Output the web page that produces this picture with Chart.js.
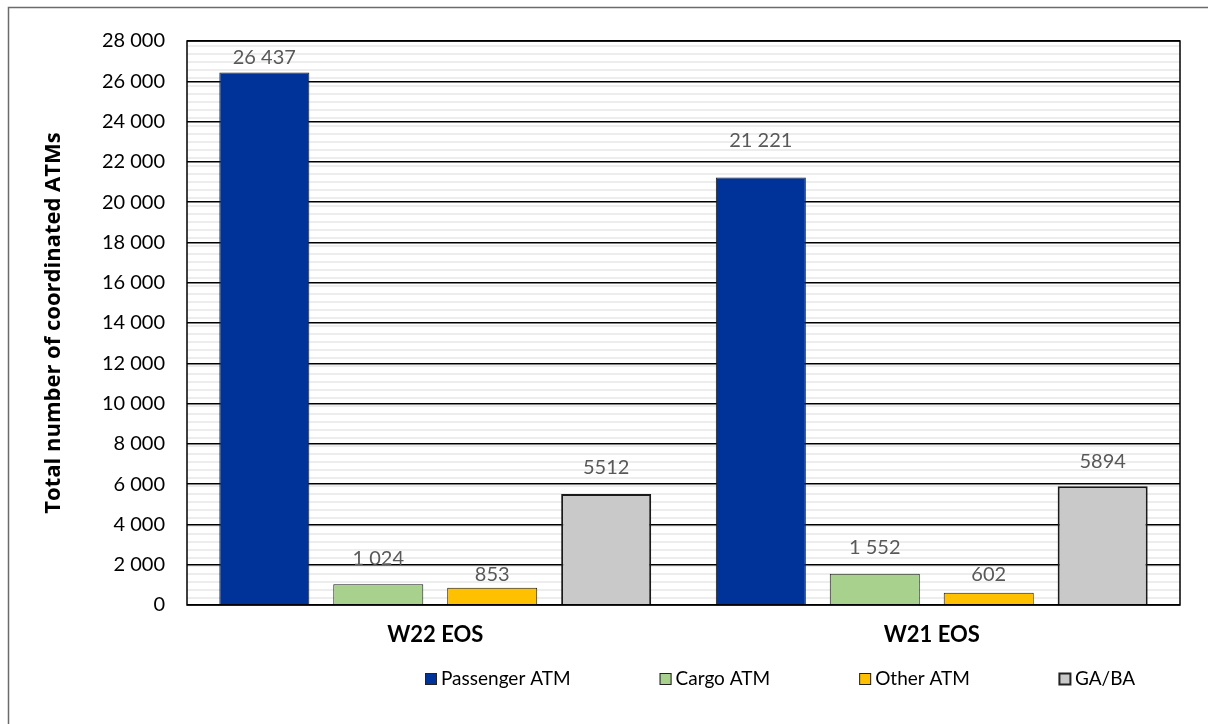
<!DOCTYPE html>
<html>
<head>
<meta charset="utf-8">
<title>Coordinated ATMs</title>
<script src="https://cdn.jsdelivr.net/npm/chart.js@4/dist/chart.umd.min.js"></script>
<style>
    html, body { margin: 0; padding: 0; background: #fff; }
    #wrap { position: relative; width: 1208px; height: 724px; }
</style>
</head>
<body>
<div id="wrap"><canvas id="atms"></canvas></div>
<script>
    "use strict";

    // data
    var seasons = ["W22 EOS", "W21 EOS"];
    var seriesNames = ["Passenger ATM", "Cargo ATM", "Other ATM", "GA/BA"];
    var passenger = [26437, 21221];
    var cargo = [1024, 1552];
    var other = [853, 602];
    var gaba = [5512, 5894];
    var yTicks = [0, 2000, 4000, 6000, 8000, 10000, 12000, 14000, 16000, 18000, 20000, 22000, 24000, 26000, 28000];

    // look
    var barColors = ["#003399", "#a9d18e", "#ffc000", "#c9c9c9"];
    var barBorders = [1, 1, 1, 2];
    var groupDigits = [true, true, true, false];
    // how far the labels sit above their bars (they were moved by hand)
    var labelLift = [[15, 37], [26, 26], [13, 18], [26, 25]];
    var font = "Lato, 'Open Sans', sans-serif";

    var fmt = function (v, spaced) {
        var s = String(v);
        return spaced ? s.replace(/\B(?=(\d{3})+(?!\d))/g, " ") : s;
    }

    // striped plot background + outer frame
    var backdrop = {
        id: "backdrop",
        beforeDraw: function (chart) {
            var ctx = chart.ctx, a = chart.chartArea;
            ctx.save();
            ctx.strokeStyle = "#6b6b6b";
            ctx.lineWidth = 1.5;
            ctx.beginPath();
            ctx.moveTo(8.5, 724);
            ctx.lineTo(8.5, 7.5);
            ctx.lineTo(1208, 7.5);
            ctx.stroke();
            ctx.fillStyle = "#ffffff";
            ctx.fillRect(a.left, a.top, a.right - a.left, a.bottom - a.top);
            ctx.fillStyle = "#ededed";
            for (var y = a.top + 4; y < a.bottom; y += 8) {
                ctx.fillRect(a.left, y, a.right - a.left, 2);
            }
            ctx.restore();
        },
        afterDraw: function (chart) {
            var ctx = chart.ctx, a = chart.chartArea;
            ctx.save();
            ctx.strokeStyle = "#000";
            ctx.lineWidth = 1.5;
            ctx.strokeRect(a.left, a.top, a.right - a.left, a.bottom - a.top);
            ctx.restore();
        }
    }

    // value labels above the bars
    var barLabels = {
        id: "barLabels",
        afterDatasetsDraw: function (chart) {
            var ctx = chart.ctx;
            ctx.save();
            ctx.font = "20px " + font;
            ctx.fillStyle = "#595959";
            ctx.textAlign = "center";
            ctx.textBaseline = "middle";
            chart.data.datasets.forEach(function (ds, i) {
                chart.getDatasetMeta(i).data.forEach(function (bar, j) {
                    ctx.fillText(fmt(ds.data[j], groupDigits[i]), bar.x, bar.y - labelLift[i][j]);
                });
            });
            ctx.restore();
        }
    }

    // legend drawn by hand so the item gaps match
    var legendRow = {
        id: "legendRow",
        afterDraw: function (chart) {
            var ctx = chart.ctx;
            var x = 425, y = 679;
            ctx.save();
            ctx.font = "19px " + font;
            ctx.textBaseline = "middle";
            ctx.textAlign = "left";
            chart.data.datasets.forEach(function (ds, i) {
                ctx.fillStyle = ds.backgroundColor;
                ctx.fillRect(x, y - 6, 12, 12);
                ctx.strokeStyle = "#222";
                ctx.lineWidth = barBorders[i];
                ctx.strokeRect(x + 0.5, y - 5.5, 11, 11);
                ctx.fillStyle = "#000";
                ctx.fillText(ds.label, x + 16, y);
                x += 16 + ctx.measureText(ds.label).width + 89;
            });
            ctx.restore();
        }
    }

    var initChart = function () {
        var series = [passenger, cargo, other, gaba];

        new Chart("atms", {
            type: "bar",
            data: {
                labels: seasons,
                datasets: series.map(function (vals, i) {
                    return {
                        label: seriesNames[i],
                        data: vals,
                        backgroundColor: barColors[i],
                        borderColor: "#1a1a1a",
                        borderWidth: barBorders[i],
                        categoryPercentage: 0.918,
                        barPercentage: 0.79
                    };
                })
            },
            options: {
                responsive: true,
                maintainAspectRatio: false,
                animation: false,
                layout: { padding: { top: 41, right: 28, left: 41, bottom: 0 } },
                plugins: {
                    legend: false,
                    tooltip: false,
                    title: { display: false }
                },
                scales: {
                    x: {
                        grid: { display: false, drawTicks: false },
                        border: { display: false },
                        ticks: {
                            padding: 17,
                            color: "#000",
                            font: { family: font, size: 22, weight: "bold" }
                        },
                        afterFit: function (s) { s.height = 119; }
                    },
                    y: {
                        min: 0,
                        max: 28000,
                        afterBuildTicks: function (s) {
                            s.ticks = yTicks.map(function (v) { return { value: v }; });
                        },
                        grid: { color: "#000", lineWidth: 1.5, drawTicks: false },
                        border: { display: false },
                        ticks: {
                            padding: 22,
                            color: "#000",
                            font: { family: font, size: 20 },
                            callback: function (v) { return fmt(v, true); }
                        },
                        title: {
                            display: true,
                            text: "Total number of coordinated ATMs",
                            color: "#000",
                            padding: 0,
                            font: { family: "'Open Sans', sans-serif", size: 22, weight: "bold" }
                        },
                        afterFit: function (s) { s.width = 146; }
                    }
                }
            },
            plugins: [backdrop, barLabels, legendRow]
        });
    }

    initChart();
</script>
</body>
</html>
